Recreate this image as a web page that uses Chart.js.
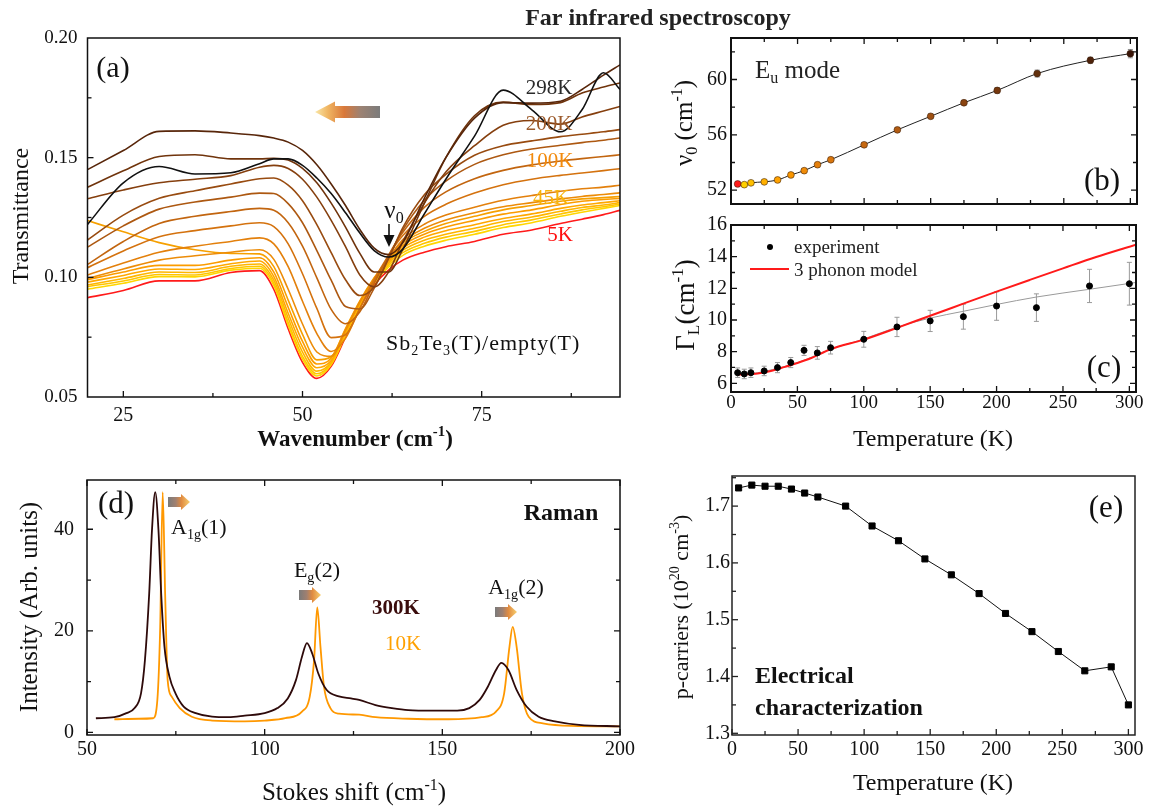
<!DOCTYPE html>
<html><head><meta charset="utf-8">
<script src="https://cdn.jsdelivr.net/npm/chart.js@4.4.1/dist/chart.umd.min.js"></script>
<style>
html,body{margin:0;padding:0;background:#fff;}
#wrap{position:relative;width:1158px;height:806px;overflow:hidden;background:#fff;}
canvas{position:absolute;left:0;top:0;}
</style></head><body><div id="wrap">
<canvas id="ca" width="1158" height="806"></canvas>
<canvas id="cb" width="1158" height="806"></canvas>
<canvas id="cc" width="1158" height="806"></canvas>
<canvas id="cd" width="1158" height="806"></canvas>
<canvas id="ce" width="1158" height="806"></canvas>
</div>
<script>
// ---------------- DATA ----------------
// (a) Far-IR transmittance Sb2Te3(T)/empty(T)
const wavenumber = [20,25,30,35,40,44,46,48,50,52,54,56,58,60,62,64,67,70,74,78,82,86,89,92,94.3];
const temperaturesA = [5,10,15,25,35,45,55,65,75,100,125,150,175,200,230,270,298];
const tr5K   = [.0915,.0945,.0985,.0985,.1020,.1028,.0950,.0785,.0645,.0578,.0628,.0750,.0875,.0968,.1030,.1072,.1105,.1128,.1150,.1180,.1198,.1225,.1243,.1262,.1280];
const tr10K  = [.0950,.0975,.1003,.1002,.1030,.1038,.0965,.0800,.0658,.0588,.0635,.0758,.0880,.0975,.1042,.1092,.1130,.1155,.1180,.1208,.1228,.1255,.1272,.1288,.1300];
const tr15K  = [.0961,.0985,.1012,.1010,.1037,.1046,.0975,.0812,.0670,.0597,.0640,.0762,.0884,.0980,.1050,.1103,.1142,.1168,.1192,.1220,.1240,.1265,.1282,.1295,.1306];
const tr25K  = [.0968,.0995,.1022,.1020,.1046,.1056,.0988,.0830,.0688,.0608,.0645,.0767,.0888,.0985,.1058,.1113,.1155,.1180,.1205,.1233,.1252,.1276,.1292,.1302,.1312];
const tr35K  = [.0980,.1008,.1035,.1033,.1057,.1068,.1003,.0850,.0708,.0622,.0652,.0772,.0892,.0990,.1064,.1123,.1168,.1195,.1220,.1246,.1265,.1288,.1302,.1312,.1320];
const tr45K  = [.0990,.1022,.1050,.1050,.1072,.1082,.1022,.0875,.0732,.0638,.0662,.0780,.0897,.0994,.1070,.1133,.1180,.1210,.1238,.1264,.1282,.1304,.1318,.1325,.1330];
const tr55K  = [.1237,.1190,.1145,.1115,.1100,.1098,.1045,.0905,.0762,.0655,.0668,.0786,.0902,.0998,.1076,.1143,.1192,.1225,.1255,.1282,.1300,.1318,.1328,.1333,.1338];
const tr65K  = [.0995,.1035,.1072,.1090,.1105,.1115,.1075,.0950,.0805,.0688,.0670,.0780,.0898,.0995,.1080,.1150,.1205,.1240,.1270,.1295,.1312,.1328,.1338,.1346,.1353];
const tr75K  = [.1010,.1060,.1105,.1130,.1150,.1165,.1140,.1045,.0900,.0765,.0690,.0745,.0870,.0985,.1080,.1158,.1222,.1260,.1293,.1322,.1342,.1360,.1370,.1377,.1385];
const tr100K = [.1040,.1110,.1170,.1195,.1215,.1228,.1212,.1140,.1015,.0870,.0748,.0760,.0870,.0990,.1092,.1175,.1255,.1305,.1352,.1387,.1410,.1426,.1436,.1446,.1454];
const tr125K = [.1054,.1150,.1225,.1255,.1275,.1288,.1280,.1228,.1130,.0998,.0866,.0806,.0856,.0975,.1092,.1188,.1292,.1357,.1412,.1447,.1470,.1486,.1496,.1505,.1512];
const tr150K = [.1126,.1215,.1285,.1315,.1335,.1352,.1350,.1308,.1228,.1112,.0988,.0878,.0868,.0955,.1082,.1198,.1322,.1402,.1472,.1512,.1536,.1552,.1563,.1573,.1582];
const tr175K = [.1156,.1260,.1330,.1362,.1390,.1412,.1415,.1385,.1320,.1220,.1103,.0990,.0924,.0960,.1078,.1208,.1345,.1430,.1510,.1550,.1570,.1588,.1598,.1608,.1617];
const tr200K = [.1328,.1365,.1395,.1410,.1425,.1460,.1468,.1455,.1410,.1335,.1238,.1128,.1010,.0960,.1022,.1150,.1310,.1440,.1550,.1635,.1655,.1640,.1670,.1695,.1714];
const tr230K = [.1376,.1445,.1505,.1512,.1495,.1495,.1497,.1490,.1455,.1395,.1310,.1210,.1100,.1022,.1022,.1118,.1310,.1500,.1675,.1732,.1722,.1730,.1770,.1795,.1812];
const tr270K = [.1450,.1530,.1610,.1612,.1603,.1592,.1582,.1565,.1530,.1470,.1390,.1300,.1200,.1122,.1095,.1145,.1330,.1500,.1665,.1730,.1728,.1736,.1785,.1845,.1888];
const tr298K = [.1221,.1395,.1463,.1432,.1437,.1475,.1495,.1495,.1468,.1415,.1350,.1270,.1185,.1112,.1085,.1118,.1265,.1410,.1590,.1782,.1700,.1608,.1700,.1855,.1785];
const aXTicks = [25,50,75];
const aXLabels = ['25','50','75'];
const aYTicks = [0.05,0.10,0.15,0.20];
const aYLabels = ['0.05','0.10','0.15','0.20'];

// (b) Eu mode frequency
const bTemperature = [5,10,15,25,35,45,55,65,75,100,125,150,175,200,230,270,300];
const bNu0 = [52.45,52.40,52.53,52.60,52.74,53.10,53.41,53.84,54.20,55.28,56.36,57.34,58.32,59.21,60.43,61.39,61.87];
const bNu0Err = [0.10,0.10,0.10,0.10,0.10,0.12,0.12,0.12,0.12,0.15,0.15,0.15,0.15,0.20,0.25,0.22,0.30];
const bYTicks = [52,56,60];
const bYLabels = ['52','56','60'];

// (c) linewidth
const cTemperature = [5,10,15,25,35,45,55,65,75,100,125,150,175,200,230,270,300];
const cGamma = [6.67,6.59,6.67,6.78,6.99,7.31,8.08,7.92,8.25,8.78,9.56,9.94,10.21,10.88,10.78,12.15,12.29];
const cGammaErr = [0.30,0.30,0.30,0.30,0.32,0.32,0.32,0.40,0.40,0.50,0.61,0.67,0.79,0.90,0.87,1.05,1.35];
const modelT = [5,10,20,30,40,50,60,75,100,125,150,175,200,225,250,275,305];
const modelGamma = [6.55,6.56,6.62,6.78,7.02,7.28,7.58,8.15,8.76,9.50,10.27,11.03,11.79,12.53,13.26,13.98,14.76];
const fitT = [5,15,25,50,75,100,125,150,175,200,230,270,305];
const fitGamma = [6.55,6.60,6.75,7.30,8.15,8.80,9.55,10.12,10.55,10.98,11.45,11.94,12.37];
const tXTicks = [0,50,100,150,200,250,300];
const tXLabels = ['0','50','100','150','200','250','300'];
const cYTicks = [6,8,10,12,14,16];
const cYLabels = ['6','8','10','12','14','16'];

// (d) Raman
const ramanShift300K = [52.5,57.7,61.1,63.4,65.2,66.3,67.5,68.3,69.2,70.1,70.9,71.8,73.2,74.9,77.2,80.6,85.2,89.8,94.4,100,103.6,106.5,108.8,110.5,111.9,113.4,115.1,117.4,120.9,124.3,126.6,131.2,135.8,140.4,147.3,154.2,157.6,160.5,162.8,165.1,166.6,168.6,170.9,173.7,177.1,181.7,188.5,200];
const intensity300K = [2.8,3.0,3.8,4.8,7.7,14.2,27.3,40,47.3,40,27,16.9,11,7.7,5.1,3.8,3.1,3.0,3.3,3.8,4.8,6.7,10.3,14.9,17.6,15.5,11.6,8.4,7.1,6.7,6.4,5.4,4.8,4.4,4.3,4.3,4.8,6.4,9.0,12.3,13.7,12.3,8.4,5.1,3.1,2.2,1.5,1.2];
const ramanShift10K = [57.7,64.6,68.6,69.8,70.6,71.3,72.0,72.7,73.8,76.1,79.5,85.2,94.4,100,105.8,110.5,112.7,113.9,114.8,115.7,116.7,118.5,120.9,126.6,131.2,140.4,151.8,161.1,165.1,167.4,168.9,169.8,170.9,172.4,174.3,178.3,186.3,200];
const intensity10K = [2.6,2.7,2.8,6.4,20.8,47.3,27,10.3,7.1,4.8,3.1,2.35,2.2,2.35,2.8,4.1,7.1,14.2,24.6,16.9,9.0,4.8,3.7,3.5,3.0,2.7,2.6,3.0,4.1,7.7,16.9,20.8,16.9,7.7,3.1,1.8,1.3,1.2];
const dXTicks = [50,100,150,200];
const dXLabels = ['50','100','150','200'];
const dYTicks = [0,20,40];
const dYLabels = ['0','20','40'];

// (e) carriers
const eTemperature = [5,15,25,35,45,55,65,86,106,126,146,166,187,207,227,247,267,287,300];
const pCarriers = [1.732,1.737,1.735,1.735,1.730,1.723,1.716,1.700,1.665,1.639,1.607,1.579,1.546,1.511,1.479,1.444,1.410,1.417,1.350];
const eYTicks = [1.3,1.4,1.5,1.6,1.7];
const eYLabels = ['1.3','1.4','1.5','1.6','1.7'];

// ---------------- STYLE ----------------
const SERIF = '"Liberation Serif","Times New Roman",serif';
const W = 1158, H = 806, YW = 50, XH = 40;
const lineColorsA = ['#ff1a1a','#ffd600','#ffc600','#ffb600','#ffa800','#fb9c00','#f6a000','#ec8c08','#e3800c','#d4720e','#c2650f','#ad5811','#984b10','#853f0e','#70340c','#58260a','#111111'];
const pointColorsB = ['#ff1a1a','#ffd000','#ffc000','#ffb000','#ffa200','#f99600','#f08c08','#e4800c','#d8760e','#c66810','#b25c12','#9e5012','#8a4410','#76380e','#62300c','#4e220a','#3a1508'];
Chart.defaults.font.family = SERIF;

function pad(L,T,R,B){ return {left:L-YW, top:T, right:W-R, bottom:H-B-XH}; }
function axis(isX, min, max, ticks, labels, size, padding, show){
  return {
    type:'linear', min, max, bounds:'data',
    afterBuildTicks: s => { s.ticks = ticks.map(v => ({value:v})); },
    afterFit: s => { if (isX) s.height = XH; else s.width = YW; s.paddingLeft = s.paddingRight = s.paddingTop = s.paddingBottom = 0; },
    grid:{display:false, drawTicks:false}, border:{display:false},
    ticks:{display:show, autoSkip:false, maxRotation:0, minRotation:0, padding, color:'#111',
      font:{family:SERIF, size}, callback:(v,i) => labels[i]}
  };
}
function base(area, x, y){
  return {responsive:false, animation:false, devicePixelRatio:1,
    layout:{padding:pad(area[0],area[1],area[2],area[3])},
    plugins:{legend:{display:false}, tooltip:{enabled:false}},
    scales:{x, y}};
}
function xy(xs, ys){ return xs.map((x,i) => ({x, y:ys[i]})); }

// rich text: parts = [[text, kind]] kind 0 normal, 1 sup, -1 sub
function setFont(ctx, s, w){ ctx.font = `normal ${w||'normal'} ${s}px ${SERIF}`; }
function drawRich(ctx, t){
  const size = t.size, w = t.weight;
  ctx.save();
  ctx.translate(t.x, t.y);
  if (t.rot) ctx.rotate(t.rot);
  ctx.letterSpacing = (t.ls || 0) + 'px';
  ctx.fillStyle = t.color || '#111';
  ctx.textBaseline = 'alphabetic';
  let total = 0; const ws = [];
  for (const [s,k] of t.parts){ setFont(ctx, k ? size*0.64 : size, w); const m = ctx.measureText(s).width; ws.push(m); total += m; }
  let cx = t.align === 'left' ? 0 : t.align === 'right' ? -total : -total/2;
  const b = size*0.33;
  t.parts.forEach(([s,k],i) => { setFont(ctx, k ? size*0.64 : size, w); const dy = k===1 ? -size*0.4 : k===-1 ? size*0.2 : 0; ctx.fillText(s, cx, b+dy); cx += ws[i]; });
  ctx.restore();
}
function gradArrow(ctx, a){
  const dir = Math.sign(a.tip - a.tail);
  const headL = a.head, xb = a.tip - dir*headL;
  const g = ctx.createLinearGradient(a.tail, 0, a.tip, 0);
  a.stops.forEach(([o,c]) => g.addColorStop(o,c));
  ctx.save(); ctx.filter = 'blur(0.7px)'; ctx.fillStyle = g; ctx.beginPath();
  ctx.moveTo(a.tail, a.y - a.shaft/2); ctx.lineTo(xb, a.y - a.shaft/2); ctx.lineTo(xb, a.y - a.h/2);
  ctx.lineTo(a.tip, a.y); ctx.lineTo(xb, a.y + a.h/2); ctx.lineTo(xb, a.y + a.shaft/2); ctx.lineTo(a.tail, a.y + a.shaft/2);
  ctx.closePath(); ctx.fill(); ctx.restore();
}

const DECOR = {};
const decorPlugin = {
  id:'decor',
  beforeDatasetsDraw(chart){
    const d = DECOR[chart.canvas.id]; if (!d || !d.err) return;
    const {ctx} = chart, xs = chart.scales.x, ys = chart.scales.y, e = d.err;
    ctx.save(); ctx.strokeStyle = e.color; ctx.lineWidth = 1;
    e.x.forEach((xv,i) => {
      const px = xs.getPixelForValue(xv), y1 = ys.getPixelForValue(e.y[i]-e.e[i]), y2 = ys.getPixelForValue(e.y[i]+e.e[i]);
      ctx.beginPath(); ctx.moveTo(px,y1); ctx.lineTo(px,y2);
      ctx.moveTo(px-2.5,y1); ctx.lineTo(px+2.5,y1); ctx.moveTo(px-2.5,y2); ctx.lineTo(px+2.5,y2); ctx.stroke();
    });
    ctx.restore();
  },
  afterDraw(chart){
    const d = DECOR[chart.canvas.id]; if (!d) return;
    const {ctx, chartArea:a} = chart, xs = chart.scales.x, ys = chart.scales.y;
    ctx.save();
    ctx.strokeStyle = d.frameColor || '#111'; ctx.lineWidth = 1.3;
    for (const t of d.ticks){
      for (const v of t.values){
        ctx.beginPath();
        if (t.axis === 'x'){
          const p = xs.getPixelForValue(v);
          if (t.sides.includes('b')){ ctx.moveTo(p, a.bottom); ctx.lineTo(p, a.bottom - t.len); }
          if (t.sides.includes('t')){ ctx.moveTo(p, a.top); ctx.lineTo(p, a.top + t.len); }
        } else {
          const p = ys.getPixelForValue(v);
          if (t.sides.includes('l')){ ctx.moveTo(a.left, p); ctx.lineTo(a.left + t.len, p); }
          if (t.sides.includes('r')){ ctx.moveTo(a.right, p); ctx.lineTo(a.right - t.len, p); }
        }
        ctx.stroke();
      }
    }
    ctx.lineWidth = d.frameWidth;
    ctx.strokeRect(a.left, a.top, a.right - a.left, a.bottom - a.top);
    for (const s of (d.shapes || [])){
      ctx.save();
      if (s.type === 'line'){ ctx.strokeStyle = s.color; ctx.lineWidth = s.width; ctx.beginPath(); ctx.moveTo(s.x1,s.y1); ctx.lineTo(s.x2,s.y2); ctx.stroke(); }
      if (s.type === 'dot'){ ctx.fillStyle = s.color; ctx.beginPath(); ctx.arc(s.x,s.y,s.r,0,Math.PI*2); ctx.fill(); }
      if (s.type === 'tri'){ ctx.fillStyle = s.color; ctx.beginPath(); ctx.moveTo(...s.p[0]); ctx.lineTo(...s.p[1]); ctx.lineTo(...s.p[2]); ctx.closePath(); ctx.fill(); }
      if (s.type === 'grad') gradArrow(ctx, s);
      ctx.restore();
    }
    for (const t of (d.texts || [])) drawRich(ctx, t);
    ctx.restore();
  }
};
Chart.register(decorPlugin);

const ROT = -Math.PI/2;
const toRight = [[0,'#7a7a7a'],[0.35,'#a08070'],[0.6,'#e08a40'],[1,'#f8d070']];

// ---------------- (a) ----------------
const trList = [tr5K,tr10K,tr15K,tr25K,tr35K,tr45K,tr55K,tr65K,tr75K,tr100K,tr125K,tr150K,tr175K,tr200K,tr230K,tr270K,tr298K];
DECOR.ca = {
  frameWidth:1.5,
  ticks:[{axis:'x', values:[25,50,75], len:6, sides:'b'}, {axis:'x', values:[37.5,62.5,87.5], len:4, sides:'b'},
         {axis:'y', values:[0.10,0.15], len:6, sides:'l'}, {axis:'y', values:[0.075,0.125,0.175], len:4, sides:'l'}],
  shapes:[
    {type:'grad', tail:380, tip:315, y:112, h:21, shaft:12, head:20, stops:[[0,'#7b7b7b'],[0.3,'#9c8273'],[0.55,'#d9783a'],[0.8,'#f0b562'],[1,'#f9e7a8']]},
    {type:'line', x1:389, y1:224, x2:389, y2:238, color:'#111', width:1.6},
    {type:'tri', p:[[383.5,235],[394.5,235],[389,247]], color:'#111'}
  ],
  texts:[
    {parts:[['Far infrared spectroscopy',0]], x:658, y:17, size:24, weight:'bold', color:'#222'},
    {parts:[['(a)',0]], x:113, y:67, size:30},
    {parts:[['298K',0]], x:549, y:87, size:21, color:'#2a2a2a'},
    {parts:[['200K',0]], x:549, y:123, size:21, color:'#9b5a2b'},
    {parts:[['100K',0]], x:550, y:160, size:21, color:'#f28a0c'},
    {parts:[['45K',0]], x:551, y:197, size:21, color:'#f7b40a'},
    {parts:[['5K',0]], x:560, y:234, size:21, color:'#ff1010'},
    {parts:[['ν',0],['0',-1]], x:394, y:210, size:25},
    {parts:[['Sb',0],['2',-1],['Te',0],['3',-1],['(T)/empty(T)',0]], x:386, y:343, size:22, align:'left', ls:1},
    {parts:[['Transmittance',0]], x:20, y:216, size:24, rot:ROT},
    {parts:[['Wavenumber (cm',0],['-1',1],[')',0]], x:355, y:438, size:23, weight:'bold'}
  ]
};
new Chart(document.getElementById('ca'), {
  type:'line',
  data:{datasets: trList.map((arr,i) => ({label: temperaturesA[i]+'K', data: xy(wavenumber, arr),
    borderColor: lineColorsA[i], borderWidth:1.6, pointRadius:0, cubicInterpolationMode:'monotone', fill:false,
    order: i===16 ? -1 : 17-i}))},
  options: base([87.5,38,620,397],
    axis(true, 20, 94.3, aXTicks, aXLabels, 20, 7, true),
    axis(false, 0.05, 0.20, aYTicks, aYLabels, 19, 10, true))
});

// ---------------- (b) ----------------
DECOR.cb = {
  frameWidth:2,
  ticks:[{axis:'x', values:tXTicks, len:6, sides:'bt'}, {axis:'x', values:[25,75,125,175,225,275], len:4, sides:'bt'},
         {axis:'y', values:bYTicks, len:6, sides:'lr'}, {axis:'y', values:[54,58,62], len:4, sides:'lr'}],
  err:{x:bTemperature, y:bNu0, e:bNu0Err, color:'#8a8a8a'},
  texts:[
    {parts:[['E',0],['u',-1],[' mode',0]], x:755, y:70, size:25, align:'left', color:'#222'},
    {parts:[['(b)',0]], x:1102, y:180, size:31},
    {parts:[['ν',0],['0',-1],[' (cm',0],['-1',1],[')',0]], x:684, y:123, size:25, rot:ROT}
  ]
};
new Chart(document.getElementById('cb'), {
  type:'line',
  data:{datasets:[
    {data: xy(bTemperature, bNu0), showLine:false, pointRadius:3.4, pointBorderWidth:0.8,
     pointBackgroundColor: pointColorsB, pointBorderColor:'rgba(60,30,10,0.7)'},
    {data: xy(bTemperature, bNu0), borderColor:'#222', borderWidth:1, pointRadius:0, cubicInterpolationMode:'monotone'}
  ]},
  options: base([731,38,1137,204],
    axis(true, 0, 305, tXTicks, tXLabels, 19, 3, false),
    axis(false, 51, 63, bYTicks, bYLabels, 20, 4, true))
});

// ---------------- (c) ----------------
DECOR.cc = {
  frameWidth:2,
  ticks:[{axis:'x', values:tXTicks, len:6, sides:'bt'}, {axis:'x', values:[25,75,125,175,225,275], len:4, sides:'bt'},
         {axis:'y', values:cYTicks, len:6, sides:'lr'}, {axis:'y', values:[7,9,11,13,15], len:4, sides:'lr'}],
  err:{x:cTemperature, y:cGamma, e:cGammaErr, color:'#9a9a9a'},
  shapes:[
    {type:'dot', x:770, y:247, r:3, color:'#000'},
    {type:'line', x1:750, y1:269, x2:789, y2:269, color:'#ff1a1a', width:2}
  ],
  texts:[
    {parts:[['experiment',0]], x:794, y:247, size:19, align:'left', color:'#222'},
    {parts:[['3 phonon model',0]], x:794, y:270, size:19, align:'left', color:'#222'},
    {parts:[['(c)',0]], x:1104, y:367, size:31},
    {parts:[['Γ',0],['L',-1],['(cm',0],['-1',1],[')',0]], x:685, y:305, size:27, rot:ROT},
    {parts:[['Temperature (K)',0]], x:933, y:438, size:24}
  ]
};
new Chart(document.getElementById('cc'), {
  type:'line',
  data:{datasets:[
    {data: xy(cTemperature, cGamma), showLine:false, pointRadius:3, pointBackgroundColor:'#000', pointBorderColor:'#000'},
    {data: xy(modelT, modelGamma), borderColor:'#ff1a1a', borderWidth:2, pointRadius:0, cubicInterpolationMode:'monotone'},
    {data: xy(fitT, fitGamma), borderColor:'#9a9a9a', borderWidth:1, pointRadius:0, cubicInterpolationMode:'monotone'}
  ]},
  options: base([731,225,1136,392],
    axis(true, 0, 305, tXTicks, tXLabels, 19, 0, true),
    axis(false, 5.45, 16, cYTicks, cYLabels, 20, 4, true))
});

// ---------------- (d) ----------------
DECOR.cd = {
  frameWidth:1.5,
  ticks:[{axis:'x', values:dXTicks, len:6, sides:'bt'}, {axis:'x', values:[75,125,175], len:4, sides:'bt'},
         {axis:'y', values:dYTicks, len:6, sides:'lr'}, {axis:'y', values:[10,30], len:4, sides:'lr'}],
  shapes:[
    {type:'grad', tail:168, tip:190, y:502, h:16, shaft:10, head:9, stops:toRight},
    {type:'grad', tail:299, tip:321, y:595, h:16, shaft:10, head:9, stops:toRight},
    {type:'grad', tail:495, tip:517, y:612, h:16, shaft:10, head:9, stops:toRight}
  ],
  texts:[
    {parts:[['(d)',0]], x:116, y:503, size:31},
    {parts:[['A',0],['1g',-1],['(1)',0]], x:171, y:527, size:22, align:'left'},
    {parts:[['E',0],['g',-1],['(2)',0]], x:317, y:570, size:22},
    {parts:[['A',0],['1g',-1],['(2)',0]], x:516, y:587, size:22},
    {parts:[['300K',0]], x:396, y:607, size:21, weight:'bold', color:'#3a0c0c'},
    {parts:[['10K',0]], x:403, y:643, size:21, color:'#ffa000'},
    {parts:[['Raman',0]], x:561, y:512, size:24, weight:'bold'},
    {parts:[['Intensity (Arb. units)',0]], x:29, y:607, size:25, rot:ROT},
    {parts:[['Stokes shift (cm',0],['-1',1],[')',0]], x:354, y:792, size:25}
  ]
};
new Chart(document.getElementById('cd'), {
  type:'line',
  data:{datasets:[
    {label:'300K', data: xy(ramanShift300K, intensity300K), borderColor:'#2e0a0a', borderWidth:1.8, pointRadius:0, cubicInterpolationMode:'monotone'},
    {label:'10K', data: xy(ramanShift10K, intensity10K), borderColor:'#ff9800', borderWidth:1.8, pointRadius:0, cubicInterpolationMode:'monotone'}
  ]},
  options: base([87,480,620,735],
    axis(true, 50, 200, dXTicks, dXLabels, 20, 3, true),
    axis(false, -0.5, 49.7, dYTicks, dYLabels, 20, 13, true))
});

// ---------------- (e) ----------------
DECOR.ce = {
  frameWidth:1.5, frameColor:'#222',
  ticks:[{axis:'x', values:tXTicks, len:6, sides:'b'}, {axis:'x', values:[25,75,125,175,225,275], len:4, sides:'b'},
         {axis:'y', values:eYTicks, len:6, sides:'l'}, {axis:'y', values:[1.35,1.45,1.55,1.65,1.75], len:4, sides:'l'}],
  texts:[
    {parts:[['(e)',0]], x:1106, y:507, size:31},
    {parts:[['Electrical',0]], x:755, y:675, size:24, weight:'bold', align:'left'},
    {parts:[['characterization',0]], x:755, y:707, size:24, weight:'bold', align:'left'},
    {parts:[['p-carriers (10',0],['20',1],[' cm',0],['-3',1],[')',0]], x:681, y:607, size:22, rot:ROT},
    {parts:[['Temperature (K)',0]], x:933, y:782, size:24}
  ]
};
new Chart(document.getElementById('ce'), {
  type:'line',
  data:{datasets:[
    {data: xy(eTemperature, pCarriers), borderColor:'#111', borderWidth:1, pointStyle:'rect', pointRadius:4.3,
     pointBackgroundColor:'#000', pointBorderColor:'#000', tension:0}
  ]},
  options: base([732,476,1135,735],
    axis(true, 0, 305, tXTicks, tXLabels, 20, 3, true),
    axis(false, 1.297, 1.753, eYTicks, eYLabels, 20, 2, true))
});
</script>
</body></html>
